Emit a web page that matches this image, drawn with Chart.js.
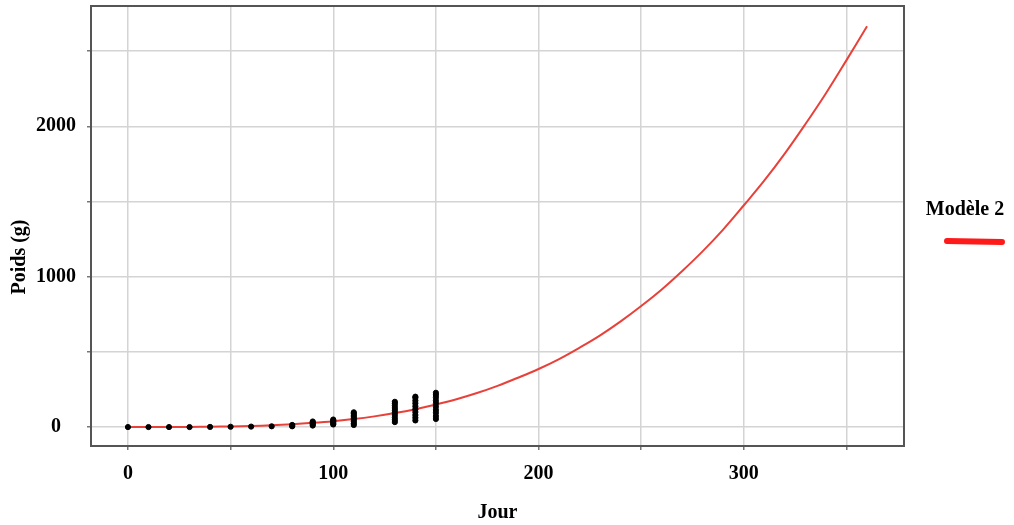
<!DOCTYPE html>
<html>
<head>
<meta charset="utf-8">
<script src="https://cdn.jsdelivr.net/npm/chart.js@4"></script>
<style>
  body { margin: 0; background: #fff; }
</style>
</head>
<body>
<canvas id="chart" width="1014" height="525"></canvas>
<script>
// modele 2 curve (day, weight in g)
var curveDays = [0, 10, 20, 30, 40, 50, 60, 70, 80, 90, 100, 110, 120, 130, 140, 150, 160, 170, 180,
  190, 200, 210, 220, 230, 240, 250, 260, 270, 280, 290, 300, 310, 320, 330, 340, 350, 360];
var curveWeights = [0, 0, 0, 1, 2, 4, 7, 12, 19, 28, 39, 53, 71, 93, 119, 150, 185, 226, 274,
  328, 386, 452, 528, 610, 703, 805, 915, 1038, 1170, 1315, 1475, 1640, 1820, 2015, 2220, 2440, 2665];

// observed weights, one small list per day
var obsDays = [0, 10, 20, 30, 40, 50, 60, 70, 80, 90, 100, 110, 130, 140, 150];
var obsWeights = [
  [0], [0], [0], [0], [1], [2], [3], [5],
  [5, 9, 14],
  [10, 17, 24, 31, 37],
  [17, 23, 30, 37, 44, 50],
  [14, 24, 36, 47, 58, 68, 79, 90, 98],
  [33, 48, 63, 80, 96, 112, 127, 143, 158, 168],
  [44, 62, 80, 100, 118, 138, 158, 176, 195, 202],
  [54, 73, 95, 114, 136, 157, 176, 197, 214, 228]
];

// grid positions, and the ones that carry a label
var xGrid = [0, 50, 100, 150, 200, 250, 300, 350];
var yGrid = [0, 500, 1000, 1500, 2000, 2500];
var xTicks = [0, 100, 200, 300];
var yTicks = [0, 1000, 2000];
var seriesName = 'Modèle 2';
var yTitle = 'Poids (g)';

var curvePts = curveDays.map(function (d, i) { return { x: d, y: curveWeights[i] }; });
var obsPts = [];
obsDays.forEach(function (d, i) {
  obsWeights[i].forEach(function (w) { obsPts.push({ x: d, y: w }); });
});

var serif = 'Liberation Serif';
var boldFont = 'bold 20px "' + serif + '"';

var frame = {
  id: 'frame',
  afterDatasetsDraw: function (chart) {
    var a = chart.chartArea, ctx = chart.ctx;
    ctx.save();
    ctx.strokeStyle = '#555';
    ctx.lineWidth = 2;
    ctx.strokeRect(a.left, a.top, a.right - a.left, a.bottom - a.top);
    ctx.restore();
  },
  afterDraw: function (chart) {
    var ctx = chart.ctx;
    ctx.save();
    ctx.fillStyle = '#000';
    ctx.font = boldFont;
    ctx.textAlign = 'center';
    ctx.textBaseline = 'middle';
    // legend
    ctx.fillText(seriesName, 965, 210);
    ctx.strokeStyle = '#ff1a1a';
    ctx.lineWidth = 6;
    ctx.lineCap = 'round';
    ctx.beginPath();
    ctx.moveTo(947, 241);
    ctx.lineTo(1002, 242);
    ctx.stroke();
    // y title, sits a bit below the middle like the original
    ctx.translate(20, 257);
    ctx.rotate(-Math.PI / 2);
    ctx.fillText(yTitle, 0, 0);
    ctx.restore();
  }
};

function gridTicks(list) {
  return function (s) {
    s.ticks = list.map(function (v) { return { value: v }; });
  };
}

new Chart(document.getElementById('chart'), {
  type: 'scatter',
  data: {
    datasets: [{
      label: seriesName,
      type: 'line',
      data: curvePts,
      borderColor: '#e8413a',
      borderWidth: 2,
      pointRadius: 0,
      tension: 0.4,
      order: 2
    }, {
      label: 'obs',
      data: obsPts,
      backgroundColor: '#000',
      borderColor: '#000',
      pointRadius: 2.6,
      order: 1
    }]
  },
  options: {
    responsive: false,
    animation: false,
    devicePixelRatio: 1,
    layout: { padding: { top: 6, right: 110, left: 0, bottom: 0 } },
    plugins: { legend: { display: false }, tooltip: { enabled: false } },
    scales: {
      x: {
        type: 'linear',
        min: -18,
        max: 378,
        afterFit: function (s) { s.height = 79; s.paddingLeft = 0; s.paddingRight = 0; },
        afterBuildTicks: gridTicks(xGrid),
        ticks: {
          padding: 12,
          autoSkip: false,
          maxRotation: 0,
          color: '#000',
          font: { family: serif, size: 20, weight: 'bold' },
          callback: function (v) { return xTicks.indexOf(v) >= 0 ? String(v) : ''; }
        },
        grid: { color: '#d4d4d4', lineWidth: 1.5, tickLength: 4, tickColor: '#777' },
        border: { display: false },
        title: {
          display: true, text: 'Jour', color: '#000',
          font: { family: serif, size: 20, weight: 'bold' },
          padding: { top: 0, bottom: 0 }
        }
      },
      y: {
        min: -126,
        max: 2800,
        afterFit: function (s) { s.width = 91; s.paddingTop = 0; s.paddingBottom = 0; },
        afterBuildTicks: gridTicks(yGrid),
        ticks: {
          padding: 11,
          autoSkip: false,
          crossAlign: 'center',
          color: '#000',
          font: { family: serif, size: 20, weight: 'bold' },
          callback: function (v) { return yTicks.indexOf(v) >= 0 ? String(v) : ''; }
        },
        grid: { color: '#d4d4d4', lineWidth: 1.5, tickLength: 4, tickColor: '#777' },
        border: { display: false },
        title: { display: false }
      }
    }
  },
  plugins: [frame]
});
</script>
</body>
</html>
